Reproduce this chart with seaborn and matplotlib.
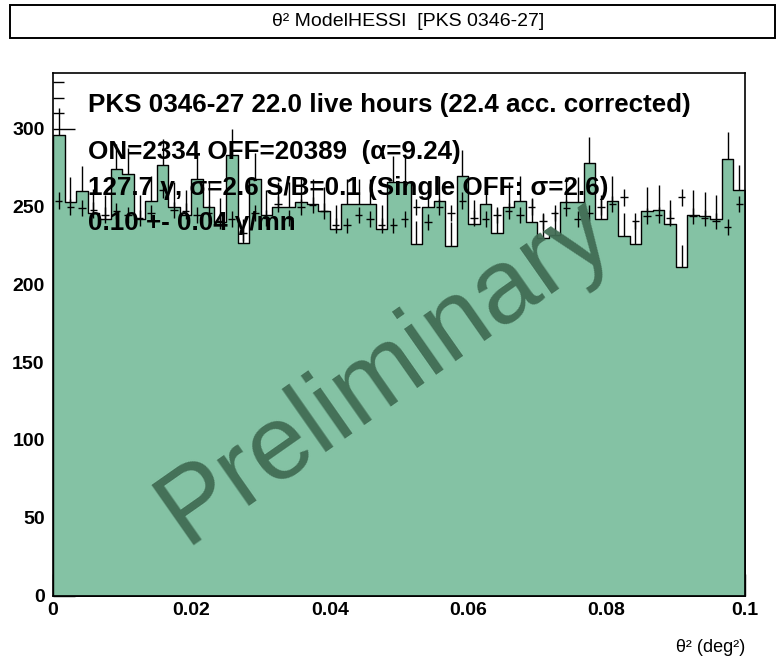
import numpy as np
import pandas as pd
import matplotlib
matplotlib.use("Agg")
import matplotlib.pyplot as plt
from matplotlib import font_manager
from matplotlib.patches import Rectangle
from matplotlib.ticker import MultipleLocator, FixedLocator, FixedFormatter
import seaborn as sns

# theta^2 binning
theta2_min = 0.0
theta2_max = 0.1
n_bins = 60

# ON counts per theta^2 bin
on_counts = [296, 253, 260, 246, 242, 274, 271, 242, 254, 277,
             250, 245, 268, 250, 240, 283, 227, 268, 245, 250,
             250, 253, 252, 247, 236, 252, 252, 252, 236, 266,
             266, 226, 250, 254, 225, 270, 239, 252, 233, 250,
             254, 240, 230, 232, 253, 253, 278, 242, 254, 231,
             226, 247, 248, 239, 211, 245, 244, 242, 281, 261]

# OFF counts scaled by 1/alpha
off_scaled = [254, 250, 249, 248, 245, 247, 245, 243, 246, 261,
              248, 247, 245, 246, 241, 242, 233, 246, 243, 252,
              243, 250, 251, 247, 238, 238, 245, 242, 238, 238,
              242, 250, 240, 250, 246, 254, 243, 242, 245, 247,
              245, 250, 241, 246, 249, 242, 246, 250, 252, 256,
              241, 244, 245, 243, 256, 244, 243, 241, 237, 252]
alpha = 9.24

x_tick_values = [0.0, 0.02, 0.04, 0.06, 0.08, 0.1]
x_tick_labels = ["0", "0.02", "0.04", "0.06", "0.08", "0.1"]
y_tick_values = [0, 50, 100, 150, 200, 250, 300]
y_tick_labels = ["0", "50", "100", "150", "200", "250", "300"]

title_text = "\u03b8\u00b2 ModelHESSI  [PKS 0346-27]"
xlabel_text = "\u03b8\u00b2 (deg\u00b2)"
info_lines = [
    "PKS 0346-27 22.0 live hours (22.4 acc. corrected)",
    "ON=2334 OFF=20389  (\u03b1=9.24)",
    "127.7 \u03b3, \u03c3=2.6 S/B=0.1 (Single OFF: \u03c3=2.6)",
    "0.10 +- 0.04 \u03b3/mn",
]
watermark = "Preliminary"

sns.set_theme(style="white")
available = {f.name for f in font_manager.fontManager.ttflist}
narrow = "Liberation Sans Narrow" if "Liberation Sans Narrow" in available else None
base_family = [narrow, "Liberation Sans", "DejaVu Sans"] if narrow else ["Liberation Sans", "DejaVu Sans"]
plt.rcParams["font.family"] = base_family
plt.rcParams["axes.linewidth"] = 1.2
plt.rcParams["text.color"] = "black"
plt.rcParams["xtick.color"] = "black"
plt.rcParams["ytick.color"] = "black"
plt.rcParams["xtick.labelcolor"] = "black"
plt.rcParams["ytick.labelcolor"] = "black"

fill_color = "#84c2a4"
mark_color = "#416c54"

edges = np.linspace(theta2_min, theta2_max, n_bins + 1)
centers = 0.5 * (edges[:-1] + edges[1:])
width = edges[1] - edges[0]
df = pd.DataFrame({"theta2": centers, "on": on_counts, "off": off_scaled})
df["on_err"] = np.sqrt(df["on"])
df["off_err"] = np.sqrt(df["off"] / alpha)

fig = plt.figure(figsize=(7.83, 6.62), dpi=100)
ax = fig.add_axes([53 / 783, 1 - 595.5 / 662, 692 / 783, 522.5 / 662])

# ON statistical errors sit underneath the filled histogram
ax.errorbar(df["theta2"], df["on"], yerr=df["on_err"], fmt="none",
            ecolor="black", elinewidth=1.0, capsize=0, zorder=1)
sns.histplot(data=df, x="theta2", weights="on", bins=n_bins,
             binrange=(theta2_min, theta2_max), element="step",
             fill=True, color=fill_color, alpha=1.0, edgecolor="black",
             linewidth=1.0, ax=ax, zorder=2)
# normalised OFF counts as crosses
ax.errorbar(df["theta2"], df["off"], xerr=0.32 * width, yerr=df["off_err"],
            fmt="none", ecolor="black", elinewidth=1.0, capsize=0, zorder=3)

ax.set_xlim(theta2_min, theta2_max)
ax.set_ylim(0, 336)
ax.set_xlabel("")
ax.set_ylabel("")

ax.xaxis.set_major_locator(FixedLocator(x_tick_values))
ax.xaxis.set_major_formatter(FixedFormatter(x_tick_labels))
ax.xaxis.set_minor_locator(MultipleLocator(0.005))
ax.yaxis.set_major_locator(FixedLocator(y_tick_values))
ax.yaxis.set_major_formatter(FixedFormatter(y_tick_labels))
ax.yaxis.set_minor_locator(MultipleLocator(10))
ax.tick_params(axis="both", which="both", direction="in", color="black",
               labelcolor="black", bottom=True, left=True, top=False,
               right=False)
ax.tick_params(axis="x", which="major", length=16, width=1.0, pad=5,
               labelsize=14)
ax.tick_params(axis="x", which="minor", length=8, width=1.0)
ax.tick_params(axis="y", which="major", length=16, width=1.0, pad=6,
               labelsize=14)
ax.tick_params(axis="y", which="minor", length=8, width=1.0)
for lab in ax.get_xticklabels() + ax.get_yticklabels():
    lab.set_fontweight("bold")
for sp in ax.spines.values():
    sp.set_color("black")
    sp.set_linewidth(1.2)
    sp.set_zorder(6)

line_y = [0.939, 0.849, 0.780, 0.713]
for txt, yy in zip(info_lines, line_y):
    ax.text(0.051, yy, txt, transform=ax.transAxes, fontsize=18.7,
            fontweight="bold", color="black", ha="left", va="center",
            zorder=7)

ax.text(0.48, 0.43, watermark, transform=ax.transAxes, fontsize=76,
        color=mark_color, alpha=0.95, rotation=35, ha="center",
        va="center", zorder=4)

# title box
fig.patches.append(Rectangle((10 / 783, 1 - 38 / 662), 765 / 783, 33 / 662,
                             transform=fig.transFigure, facecolor="white",
                             edgecolor="black", linewidth=1.4))
fig.text(408 / 783, 1 - 22 / 662, title_text, ha="center", va="center",
         fontsize=14, color="black")
fig.text(745 / 783, 1 - 648 / 662, xlabel_text, ha="right", va="center",
         fontsize=13, color="black")

fig.savefig("out.png", dpi=100)
